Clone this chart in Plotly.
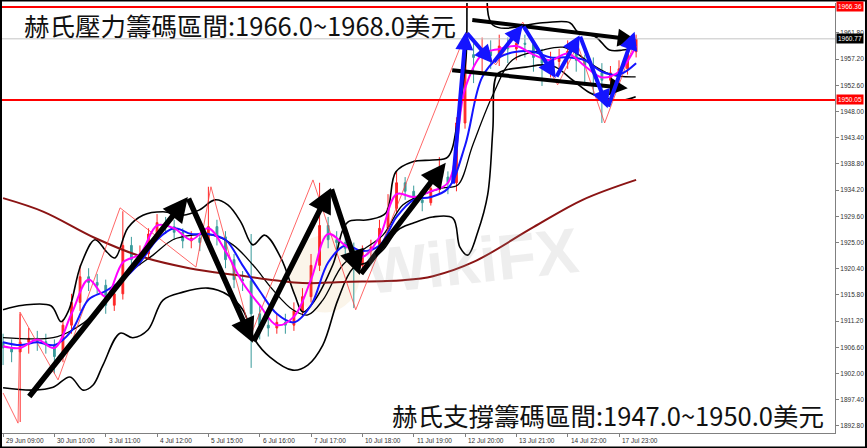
import plotly.graph_objects as go

# ==========================================================
# THEME
# ==========================================================

RED = "#FF0000"
TEAL = "#178A8A"
MAGENTA = "#FF00FF"
BLUE = "#1414FF"
BROWN = "#8B1414"
BLACK = "#000000"
AXIS = "#808080"
LABEL = "#303030"

CJK = "Noto Sans CJK TC"
SMALL = dict(family="Liberation Sans", size=6.5, color=LABEL)

# ==========================================================
# DATA  (x = H1 bar index counted from 29 Jun 09:00)
# ==========================================================

candle_bar = list(range(0, 300, 4))

candle_open = [
    1907.5, 1906.5, 1905.8, 1907.5, 1908.2, 1907.6, 1907.0, 1905.0, 1910.5, 1914.5,
    1919.0, 1918.0, 1917.5, 1914.0, 1916.0, 1924.5, 1922.0, 1923.0, 1926.5, 1928.5,
    1927.8, 1926.8, 1925.3, 1925.8, 1925.0, 1927.8, 1926.0, 1922.0, 1918.5, 1918.3,
    1912.5, 1910.5, 1910.0, 1911.0, 1910.5, 1913.0, 1915.5, 1921.0, 1928.0, 1925.5,
    1925.0, 1924.0, 1921.0, 1923.5, 1924.2, 1927.5, 1931.0, 1935.5, 1934.0, 1932.5,
    1932.0, 1934.5, 1936.5, 1935.5, 1946.0, 1958.0, 1957.5, 1958.5, 1957.8, 1959.5,
    1959.0, 1960.0, 1959.8, 1957.5, 1956.5, 1956.8, 1957.5, 1958.6, 1957.0, 1956.0,
    1954.8, 1953.5, 1954.8, 1955.5, 1958.5,
]

candle_close = [
    1906.5, 1905.8, 1907.5, 1908.2, 1907.6, 1907.0, 1905.0, 1910.5, 1914.5, 1919.0,
    1918.0, 1917.5, 1914.0, 1916.0, 1924.5, 1922.0, 1923.0, 1926.5, 1928.5, 1927.8,
    1926.8, 1925.3, 1925.8, 1925.0, 1927.8, 1926.0, 1922.0, 1918.5, 1918.3, 1912.5,
    1910.5, 1910.0, 1911.0, 1910.5, 1913.0, 1915.5, 1921.0, 1928.0, 1925.5, 1925.0,
    1924.0, 1921.0, 1923.5, 1924.2, 1927.5, 1931.0, 1935.5, 1934.0, 1932.5, 1932.0,
    1934.5, 1936.5, 1935.5, 1946.0, 1958.0, 1957.5, 1958.5, 1957.8, 1959.5, 1959.0,
    1960.0, 1959.8, 1957.5, 1956.5, 1956.8, 1957.5, 1958.6, 1957.0, 1956.0, 1954.8,
    1953.5, 1954.8, 1955.5, 1958.5, 1960.77,
]

candle_high = [
    1909.0, 1908.0, 1912.5, 1910.0, 1909.5, 1909.0, 1908.0, 1911.5, 1916.0, 1921.0,
    1920.5, 1919.5, 1918.5, 1917.5, 1930.5, 1926.0, 1924.5, 1927.5, 1930.0, 1929.5,
    1929.0, 1927.5, 1927.0, 1926.5, 1934.8, 1929.0, 1927.0, 1923.0, 1920.0, 1926.5,
    1914.0, 1912.0, 1912.5, 1912.5, 1914.5, 1917.0, 1923.0, 1935.5, 1929.5, 1927.0,
    1926.0, 1925.0, 1924.5, 1925.5, 1929.0, 1933.5, 1937.5, 1936.5, 1935.0, 1934.0,
    1936.0, 1940.0, 1937.5, 1947.0, 1961.5, 1960.0, 1961.0, 1960.5, 1961.5, 1961.0,
    1962.0, 1961.5, 1960.5, 1959.0, 1958.5, 1959.0, 1960.5, 1959.5, 1958.0, 1957.5,
    1956.5, 1956.0, 1957.0, 1959.5, 1961.5,
]

candle_low = [
    1903.5, 1904.0, 1893.5, 1905.5, 1906.0, 1905.5, 1902.0, 1904.0, 1909.0, 1913.0,
    1916.5, 1916.0, 1912.5, 1913.0, 1915.0, 1920.5, 1921.0, 1922.0, 1925.5, 1926.5,
    1925.5, 1924.0, 1924.0, 1923.5, 1924.0, 1924.5, 1920.5, 1917.0, 1916.5, 1903.0,
    1908.0, 1908.5, 1909.0, 1909.0, 1909.5, 1912.0, 1914.5, 1920.0, 1924.0, 1923.5,
    1922.5, 1913.5, 1920.0, 1922.5, 1923.5, 1926.5, 1930.0, 1932.5, 1931.0, 1930.5,
    1931.5, 1933.5, 1933.5, 1934.0, 1945.0, 1953.0, 1955.0, 1955.5, 1956.0, 1956.5,
    1957.0, 1957.5, 1955.0, 1952.5, 1954.0, 1955.0, 1955.5, 1955.0, 1952.5, 1951.0,
    1946.0, 1951.5, 1953.0, 1954.5, 1957.5,
]

ma_bar = list(range(0, 300, 8))

ma_fast = [
    1906.8, 1906.5, 1908.0, 1906.5, 1912.5, 1918.5, 1915.5, 1921.5, 1923.0, 1928.0,
    1927.5, 1925.5, 1927.5, 1923.5, 1918.0, 1914.0, 1910.5, 1912.0, 1918.5, 1926.5,
    1924.5, 1922.5, 1926.0, 1933.5, 1933.0, 1934.0, 1935.5, 1952.0, 1958.0, 1959.0,
    1959.5, 1958.0, 1957.0, 1958.2, 1956.0, 1954.0, 1955.0, 1959.5,
]

ma_slow = [
    1907.5, 1907.0, 1907.5, 1907.0, 1909.5, 1915.0, 1916.5, 1918.5, 1921.5, 1925.5,
    1927.5, 1926.5, 1926.5, 1925.5, 1921.0, 1916.5, 1912.5, 1911.0, 1914.0, 1921.5,
    1924.5, 1923.5, 1924.5, 1929.5, 1932.5, 1933.0, 1934.5, 1942.0, 1954.0, 1957.5,
    1958.5, 1958.5, 1957.5, 1957.5, 1957.0, 1955.0, 1954.5, 1956.5,
]

band_up_bar = [
    0, 9.3, 22.4, 27.1, 30.8, 36.4, 43.0, 48.6, 52.3, 58.4, 65.4, 74.8, 84.1, 91.6,
    99.1, 105.1, 111.2, 116.8, 122.4, 129.9, 136.4, 140.2, 145.8, 154.2, 161.2,
    170.6, 179.0, 183.6, 191.6, 200.9, 207.9, 212.6, 216.4, 219.6, 225.2, 229.0,
    252.3, 265.0, 268.7, 277.1, 283.6, 289.7, 295.8,
]
band_up = [
    1913.2, 1914.0, 1913.9, 1911.1, 1913.2, 1921.1, 1925.5, 1923.3, 1922.3, 1927.6,
    1929.8, 1930.4, 1929.8, 1930.7, 1932.5, 1931.6, 1928.6, 1924.6, 1926.3, 1922.3,
    1915.8, 1912.8, 1914.9, 1921.1, 1928.6, 1929.0, 1930.2, 1937.4, 1939.2, 1939.5,
    1940.0, 1946.5, 1957.1, 1974.6, 1974.6, 1963.2, 1963.6, 1963.6, 1962.0, 1961.1,
    1958.8, 1958.8, 1959.3,
]

band_mid_bar = [
    0, 23.4, 32.7, 42.1, 51.4, 60.7, 70.1, 79.4, 88.8, 98.1, 107.5, 116.8, 126.2,
    135.5, 142.5, 149.5, 158.9, 168.2, 177.6, 186.9, 196.3, 205.6, 212.6, 219.6,
    229.0, 238.3, 252.3, 261.7, 267.8, 275.7, 285.0, 295.8,
]
band_mid = [
    1908.3, 1908.3, 1909.7, 1912.3, 1916.7, 1920.2, 1922.8, 1925.5, 1926.3, 1926.3,
    1924.6, 1921.1, 1916.7, 1913.2, 1912.3, 1914.9, 1921.1, 1923.7, 1926.3, 1931.6,
    1933.4, 1934.6, 1935.1, 1942.1, 1950.9, 1957.1, 1958.8, 1959.3, 1958.3, 1956.2,
    1954.4, 1954.1,
]

band_lo_bar = [
    0, 14.0, 23.4, 31.3, 37.4, 42.1, 46.7, 54.7, 60.7, 67.8, 74.8, 84.1, 95.8,
    105.1, 112.1, 117.8, 124.8, 135.5, 142.5, 149.5, 156.5, 163.6, 170.6, 177.6,
    184.6, 191.6, 200.9, 210.3, 213.6, 217.3, 222.0, 226.6, 229.0, 230.8, 235.0,
    244.4, 252.3, 258.4, 266.4, 274.3, 280.4, 289.7, 295.8,
]
band_lo = [
    1899.5, 1899.1, 1899.6, 1901.4, 1899.1, 1900.0, 1903.5, 1909.1, 1908.3, 1909.7,
    1914.9, 1916.3, 1917.0, 1915.8, 1913.2, 1907.9, 1904.9, 1902.6, 1903.5, 1907.0,
    1914.9, 1920.5, 1921.6, 1923.7, 1927.2, 1928.4, 1929.5, 1929.3, 1924.2, 1922.8,
    1926.9, 1933.4, 1944.8, 1954.4, 1955.3, 1955.8, 1956.2, 1955.8, 1953.5, 1951.3,
    1950.4, 1950.0, 1950.6,
]

ma200_bar = [0, 19, 43, 65, 87, 109, 140, 159, 187, 201, 220, 248, 271, 296]
ma200 = [
    1932.8, 1930.4, 1925.8, 1922.5, 1920.5, 1919.3, 1917.9, 1918.1, 1918.4, 1919.1,
    1921.6, 1927.7, 1932.5, 1936.0,
]

zigzag_bar = [
    0, 7.0, 7.9, 25.7, 54.7, 90.2, 97.2, 115.9, 144.9, 164.9, 216.4, 230.4, 243.0,
    259.3, 268.7, 281.3, 295.8,
]
zigzag = [
    1898.6, 1893.3, 1912.8, 1900.9, 1931.1, 1920.7, 1934.8, 1908.8, 1936.0, 1913.2,
    1961.8, 1956.2, 1963.7, 1952.7, 1959.7, 1946.0, 1960.6,
]

# hand-drawn trend arrows
trend_bar = [11.7, 86.4, 116.8, 153.3, 166.8, 207.0]
trend_price = [1897.7, 1933.0, 1907.4, 1934.6, 1919.3, 1939.0]

range_top_bar = [218.7, 295.8]
range_top_price = [1964.1, 1960.6]
range_bot_bar = [209.3, 292.1]
range_bot_price = [1955.3, 1952.1]

swing_bar = [210.3, 216.4, 229.0, 243.0, 258.4, 269.6, 282.7, 295.3]
swing_price = [1935.1, 1962.0, 1956.5, 1963.2, 1953.9, 1961.4, 1948.6, 1962.0]

# horizontal levels and price tags
resistance = 1966.36
support = 1950.05
last_price = 1960.77

price_ticks = [
    1892.80, 1897.40, 1902.00, 1906.60, 1911.20, 1915.80, 1920.40, 1925.00,
    1929.60, 1934.20, 1938.80, 1943.40, 1948.00, 1952.60, 1957.20, 1961.80,
]

time_tick_bar = [0, 24, 48, 72, 96, 120, 144, 168, 192, 216, 240, 264, 288]
time_tick_text = [
    "29 Jun 09:00", "30 Jun 10:00", "3 Jul 11:00", "4 Jul 12:00", "5 Jul 15:00",
    "6 Jul 16:00", "7 Jul 17:00", "10 Jul 18:00", "11 Jul 19:00", "12 Jul 20:00",
    "13 Jul 21:00", "14 Jul 22:00", "17 Jul 23:00",
]

top_note = "赫氏壓力籌碼區間:1966.0~1968.0美元"
bottom_note = "赫氏支撐籌碼區間:1947.0~1950.0美元"


# ==========================================================
# HELPERS
# ==========================================================

def arrow_chain(bars, prices, color, width):
    out = []
    for i in range(1, len(bars)):
        out.append(dict(
            x=bars[i], y=prices[i],
            ax=bars[i - 1], ay=prices[i - 1],
            xref="x", yref="y", axref="x", ayref="y",
            text="", showarrow=True,
            arrowhead=2, arrowsize=0.9,
            arrowwidth=width, arrowcolor=color,
            standoff=0, startstandoff=0,
        ))
    return out


def line(x, y, color, width, shape="spline"):
    return go.Scatter(
        x=x, y=y, mode="lines",
        line=dict(color=color, width=width, shape=shape),
        hoverinfo="skip", showlegend=False,
    )


# ==========================================================
# FIGURE
# ==========================================================

fig = go.Figure()

fig.add_trace(go.Candlestick(
    x=candle_bar,
    open=candle_open, high=candle_high, low=candle_low, close=candle_close,
    increasing=dict(line=dict(color=RED, width=1), fillcolor=RED),
    decreasing=dict(line=dict(color=TEAL, width=1), fillcolor=TEAL),
    whiskerwidth=0,
    opacity=0.85,
    showlegend=False,
))

fig.add_trace(line(band_up_bar, band_up, BLACK, 1.6))
fig.add_trace(line(band_mid_bar, band_mid, BLACK, 1.3))
fig.add_trace(line(band_lo_bar, band_lo, BLACK, 1.6))
fig.add_trace(line(ma200_bar, ma200, BROWN, 2))
fig.add_trace(line(zigzag_bar, zigzag, "#FF4040", 0.8, "linear"))
fig.add_trace(line(ma_bar, ma_slow, BLUE, 2))
fig.add_trace(line(ma_bar, ma_fast, MAGENTA, 2))

annotations = []
annotations += arrow_chain(trend_bar, trend_price, BLACK, 5.5)
annotations += arrow_chain(range_top_bar, range_top_price, BLACK, 4)
annotations += arrow_chain(range_bot_bar, range_bot_price, BLACK, 4)
annotations += arrow_chain(swing_bar, swing_price, BLUE, 4)

for p, bg in [(resistance, RED), (last_price, BLACK), (support, RED)]:
    annotations.append(dict(
        x=1, xref="paper", xanchor="left", xshift=1,
        y=p, yref="y", yanchor="middle",
        text=f"{p:.2f}", showarrow=False, bgcolor=bg, borderpad=1,
        font=dict(family="Liberation Sans", size=6.5, color="white"),
    ))

for b, t in zip(time_tick_bar, time_tick_text):
    annotations.append(dict(
        x=b, xref="x", xanchor="left", xshift=1,
        y=0, yref="paper", yanchor="top", yshift=-2,
        text=t, showarrow=False, font=SMALL,
    ))

annotations.append(dict(
    x=0.024, xref="paper", xanchor="left",
    y=0.951, yref="paper", yanchor="middle",
    text=top_note, showarrow=False,
    font=dict(family=CJK, size=25.5, color="#111111"),
))

annotations.append(dict(
    x=0.989, xref="paper", xanchor="right",
    y=0.044, yref="paper", yanchor="middle",
    text=bottom_note, showarrow=False,
    font=dict(family=CJK, size=25.5, color="#111111"),
))

annotations.append(dict(
    x=0.565, xref="paper", y=0.40, yref="paper",
    text="<b>WikiFX</b>", showarrow=False, textangle=-6,
    font=dict(family="Liberation Sans", size=64, color="rgba(150,150,150,0.16)"),
))

shapes = [
    dict(type="circle", xref="paper", yref="paper",
         x0=0.345, x1=0.43, y0=0.28, y1=0.46,
         fillcolor="rgba(235,210,160,0.22)", line=dict(width=0), layer="below"),
    dict(type="line", xref="paper", x0=0, x1=1, yref="y",
         y0=last_price, y1=last_price, line=dict(color="#C4C4C4", width=1)),
    dict(type="line", xref="paper", x0=0, x1=1, yref="y",
         y0=resistance, y1=resistance, line=dict(color=RED, width=2)),
    dict(type="line", xref="paper", x0=0, x1=1, yref="y",
         y0=support, y1=support, line=dict(color=RED, width=2)),
    dict(type="rect", xref="paper", yref="paper",
         x0=-0.0012, x1=1.0372, y0=-0.0337, y1=1.0058,
         line=dict(color=BLACK, width=2)),
]

fig.update_layout(
    template="none",
    width=867,
    height=448,
    paper_bgcolor="white",
    plot_bgcolor="white",
    margin=dict(l=2, r=32, t=3, b=15),
    showlegend=False,
    boxgap=0.7,
    annotations=annotations,
    shapes=shapes,
    xaxis=dict(
        range=[-0.5, 389],
        rangeslider=dict(visible=False),
        showgrid=False, zeroline=False,
        showline=True, linecolor=AXIS, linewidth=1,
        tickvals=time_tick_bar, showticklabels=False,
        ticks="outside", ticklen=3, tickcolor=AXIS,
        automargin=False,
    ),
    yaxis=dict(
        range=[1891.57, 1967.06],
        side="right",
        showgrid=False, zeroline=False,
        showline=True, linecolor=AXIS, linewidth=1,
        tickvals=price_ticks, tickformat=".2f",
        ticks="outside", ticklen=3, tickcolor=AXIS,
        tickfont=SMALL,
        automargin=False,
    ),
)

# the page gets no body margin so the figure fills the window exactly
fig.write_html(
    "out.html",
    config={"displayModeBar": False},
    post_script="document.body.style.margin='0';document.body.style.overflow='hidden';",
)
